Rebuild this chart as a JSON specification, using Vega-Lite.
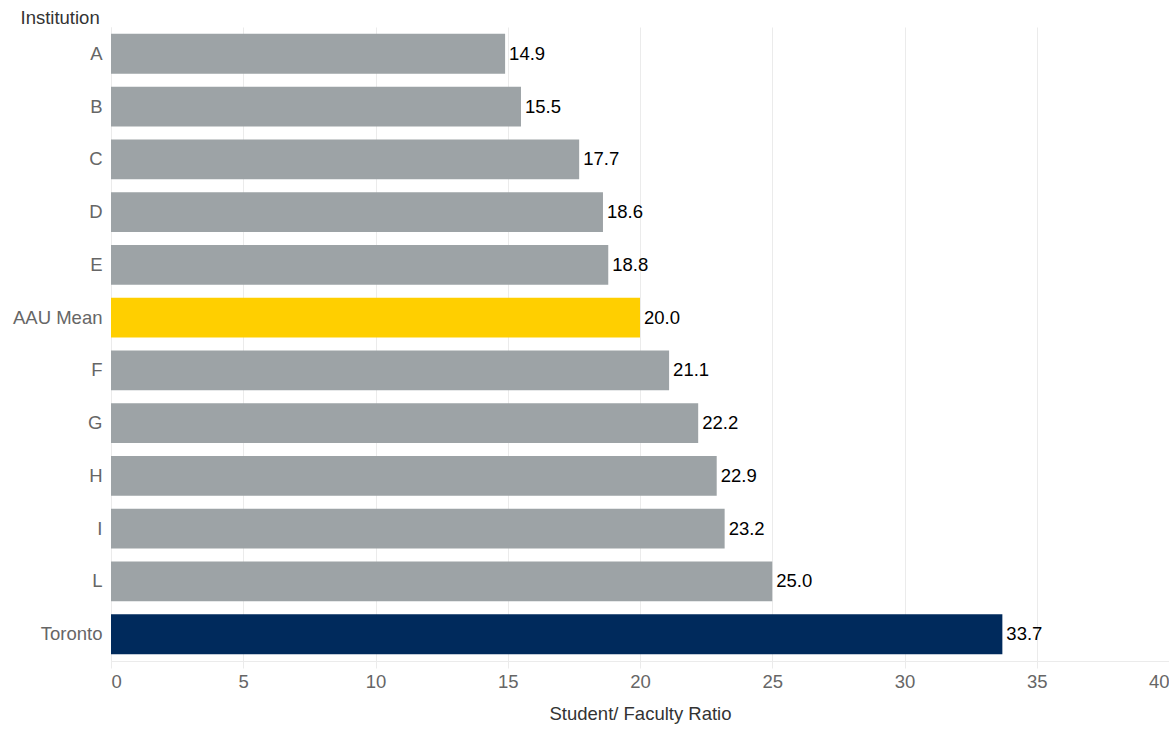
{
  "$schema": "https://vega.github.io/schema/vega-lite/v6.json",
  "width": 1058,
  "height": 634,
  "autosize": {"type": "none"},
  "padding": {"left": 111, "top": 27, "right": 0, "bottom": 68},
  "background": "white",
  "config": {
    "view": {"stroke": null},
    "font": "Liberation Sans",
    "axis": {
      "labelFont": "Liberation Sans",
      "titleFont": "Liberation Sans",
      "labelFontSize": 18.5,
      "titleFontSize": 18.5,
      "titleFontWeight": "normal",
      "labelColor": "#666666",
      "titleColor": "#333333",
      "gridColor": "#ebebeb",
      "domainColor": "#ebebeb",
      "tickColor": "#ebebeb"
    }
  },
  "data": {
    "values": [
      {"institution": "A", "ratio": 14.9, "group": "peer"},
      {"institution": "B", "ratio": 15.5, "group": "peer"},
      {"institution": "C", "ratio": 17.7, "group": "peer"},
      {"institution": "D", "ratio": 18.6, "group": "peer"},
      {"institution": "E", "ratio": 18.8, "group": "peer"},
      {"institution": "AAU Mean", "ratio": 20.0, "group": "mean"},
      {"institution": "F", "ratio": 21.1, "group": "peer"},
      {"institution": "G", "ratio": 22.2, "group": "peer"},
      {"institution": "H", "ratio": 22.9, "group": "peer"},
      {"institution": "I", "ratio": 23.2, "group": "peer"},
      {"institution": "L", "ratio": 25.0, "group": "peer"},
      {"institution": "Toronto", "ratio": 33.7, "group": "toronto"}
    ]
  },
  "encoding": {
    "y": {
      "field": "institution",
      "type": "nominal",
      "sort": null,
      "scale": {"paddingInner": 0.245, "paddingOuter": 0.13},
      "axis": {
        "title": "Institution",
        "titleAngle": 0,
        "titleAlign": "left",
        "titleBaseline": "middle",
        "titleX": -91,
        "titleY": -10,
        "ticks": false,
        "grid": false,
        "domain": true,
        "labelPadding": 9
      }
    },
    "x": {
      "field": "ratio",
      "type": "quantitative",
      "scale": {"domain": [0, 40], "nice": false},
      "axis": {
        "title": "Student/ Faculty Ratio",
        "values": [0, 5, 10, 15, 20, 25, 30, 35, 40],
        "grid": true,
        "ticks": true,
        "tickSize": 7,
        "labelPadding": 4,
        "labelFlush": true,
        "titlePadding": 14
      }
    }
  },
  "layer": [
    {
      "mark": {"type": "bar"},
      "encoding": {
        "color": {
          "field": "group",
          "type": "nominal",
          "scale": {"domain": ["peer", "mean", "toronto"], "range": ["#9da3a6", "#ffcf00", "#002a5c"]},
          "legend": null
        }
      }
    },
    {
      "mark": {"type": "text", "align": "left", "baseline": "middle", "dx": 4, "fontSize": 18.5, "color": "#000000", "font": "Liberation Sans"},
      "encoding": {
        "text": {"field": "ratio", "type": "quantitative", "format": ".1f"}
      }
    }
  ]
}
